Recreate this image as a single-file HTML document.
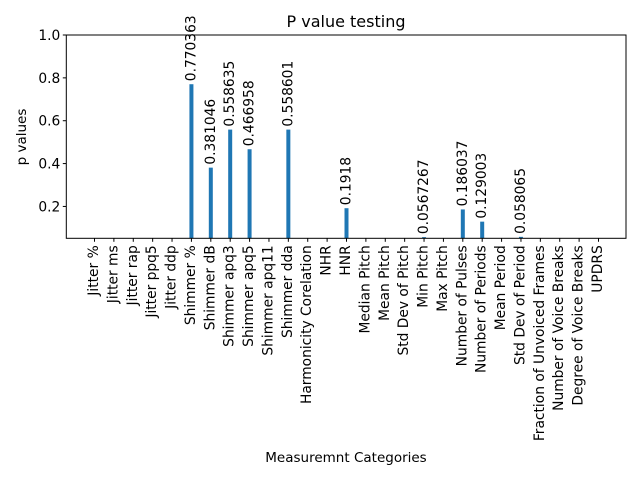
<!DOCTYPE html>
<html><head><meta charset="utf-8"><style>
body{margin:0;background:#fff;}
text{font-family:"DejaVu Sans","Liberation Sans",sans-serif;fill:#000;}
</style></head><body>
<svg id="chart" width="640" height="480" xmlns="http://www.w3.org/2000/svg">
<text x="346" y="27" font-size="16" text-anchor="middle">P value testing</text>
<text x="346" y="462" font-size="13.5" text-anchor="middle">Measuremnt Categories</text>
<text transform="translate(26,137) rotate(-90)" font-size="13.5" text-anchor="middle">p values</text>
<g id="plot"></g>
</svg>
<script>
const categories=["Jitter %","Jitter ms","Jitter rap","Jitter ppq5","Jitter ddp","Shimmer %","Shimmer dB","Shimmer apq3","Shimmer apq5","Shimmer apq11","Shimmer dda","Harmonicity Corelation","NHR","HNR","Median Pitch","Mean Pitch","Std Dev of Pitch","Min Pitch","Max Pitch","Number of Pulses","Number of Periods","Mean Period","Std Dev of Period","Fraction of Unvoiced Frames","Number of Voice Breaks","Degree of Voice Breaks","UPDRS"];
const pValues=[null,null,null,null,null,0.770363,0.381046,0.558635,0.466958,null,0.558601,null,null,0.1918,null,null,null,0.0567267,null,0.186037,0.129003,null,0.058065,null,null,null,null];
const valueLabels=["","","","","","0.770363","0.381046","0.558635","0.466958","","0.558601","","","0.1918","","","","0.0567267","","0.186037","0.129003","","0.058065","","","",""];
const yTicks=[0.2,0.4,0.6,0.8,1.0];
const yTickLabels=["0.2","0.4","0.6","0.8","1.0"];
const NS="http://www.w3.org/2000/svg";
const L=66.3,R=626,T=35,B=238.3;
const yMin=1-(B-T)/214.3, yMax=1.0;
function y(v){return B-(v-yMin)/(yMax-yMin)*(B-T);}
const x0=94.5, step=(598.5-94.5)/(categories.length-1);
function x(i){return x0+i*step;}
const g=document.getElementById('plot');
function mk(t,a){const e=document.createElementNS(NS,t);for(const k in a)e.setAttribute(k,a[k]);g.appendChild(e);return e;}
pValues.forEach((v,i)=>{
  if(v===null)return;
  const top=y(v);
  const r=mk('rect',{x:x(i)-2,y:top,width:4,height:B-top,fill:'#1f77b4'});
  
  
  const t=mk('text',{transform:`translate(${x(i)+4},${top-3}) rotate(-90)`,'font-size':'13.8'});
  t.textContent=valueLabels[i];
  
  
});
const f=mk('rect',{x:L,y:T,width:R-L,height:B-T,fill:'none',stroke:'#000','stroke-width':1});


yTicks.forEach((v,i)=>{
  const yy=y(v);
  const l=mk('line',{x1:L-3.5,x2:L,y1:yy,y2:yy,stroke:'#000'});
  
  
  const t=mk('text',{x:L-6,y:yy+5,'font-size':'13.8','text-anchor':'end'});
  t.textContent=yTickLabels[i];
  
  
});
categories.forEach((c,i)=>{
  const xx=x(i);
  const l=mk('line',{x1:xx,x2:xx,y1:B,y2:B+3.5,stroke:'#000'});
  
  
  const t=mk('text',{transform:`translate(${xx+3.5},${B+7}) rotate(-90)`,'font-size':'13.8','text-anchor':'end'});
  t.textContent=c;
  
  
});
</script>
</body></html>
